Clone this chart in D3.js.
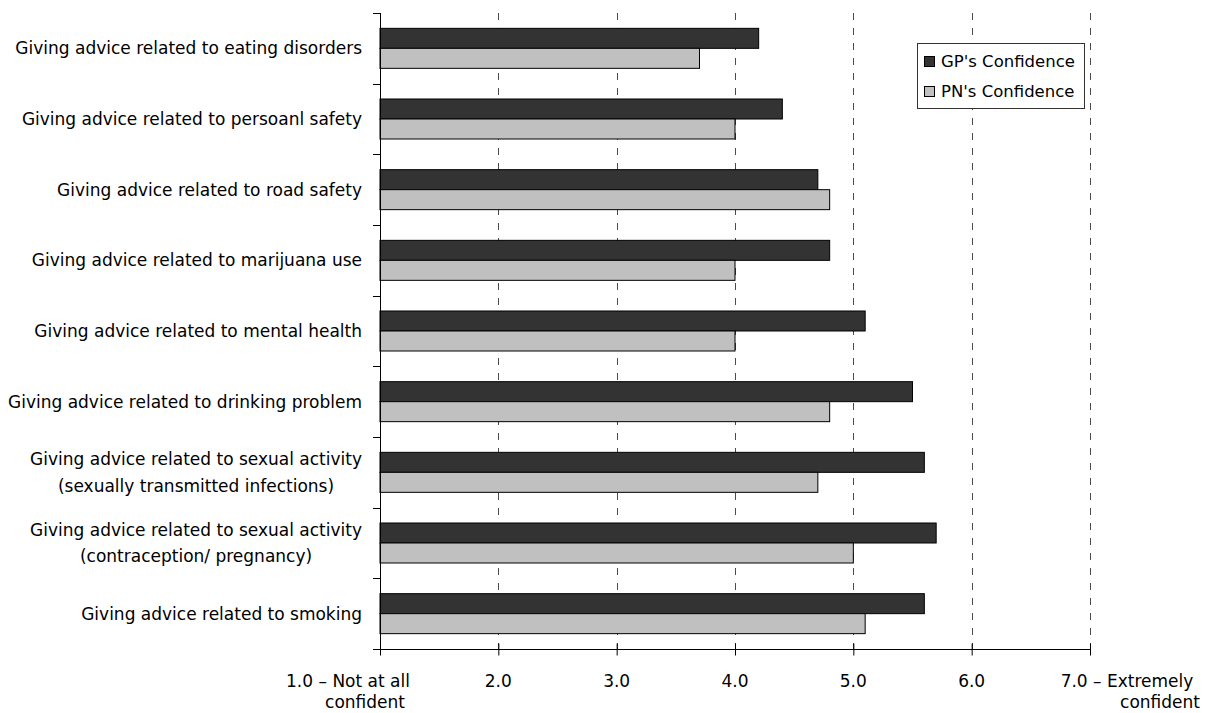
<!DOCTYPE html>
<html>
<head>
<meta charset="utf-8">
<script src="https://cdn.jsdelivr.net/npm/d3@7"></script>
<style>
  html, body { margin: 0; padding: 0; background: #fff; }
  svg { display: block; font-family: "DejaVu Sans", sans-serif; }
</style>
</head>
<body>
<svg id="chart" width="1206" height="713"></svg>
<script>
// Survey items, listed top to bottom
const categories = [
  "Giving advice related to eating disorders",
  "Giving advice related to persoanl safety",
  "Giving advice related to road safety",
  "Giving advice related to marijuana use",
  "Giving advice related to mental health",
  "Giving advice related to drinking problem",
  "Giving advice related to sexual activity|(sexually transmitted infections)",
  "Giving advice related to sexual activity|(contraception/ pregnancy)",
  "Giving advice related to smoking"
];

const seriesNames = ["GP's Confidence", "PN's Confidence"];
const gpValues = [4.2, 4.4, 4.7, 4.8, 5.1, 5.5, 5.6, 5.7, 5.6];
const pnValues = [3.7, 4.0, 4.8, 4.0, 4.0, 4.8, 4.7, 5.0, 5.1];

const tickValues = [1, 2, 3, 4, 5, 6, 7];
const tickLabels = [
  ["1.0 – Not at all", "confident"],
  ["2.0"], ["3.0"], ["4.0"], ["5.0"], ["6.0"],
  ["7.0 – Extremely", "confident"]
];

const colors = ["#333333", "#c0c0c0"];

const svg = d3.select("#chart");
const plotLeft = 380, plotRight = 1090, plotTop = 13, plotBottom = 649;

const x = d3.scaleLinear().domain([1, 7]).range([plotLeft, plotRight]);
const y = d3.scaleBand().domain(categories).range([plotTop, plotBottom]).padding(0);
const inner = d3.scaleBand().domain(seriesNames)
  .range([0, y.bandwidth()]).paddingInner(0).paddingOuter(0.767);

const rows = categories.map((c, i) => ({ cat: c, values: [gpValues[i], pnValues[i]] }));

// Dashed vertical gridlines
svg.append("g").selectAll("line")
  .data(tickValues.slice(1))
  .join("line")
  .attr("x1", d => Math.round(x(d)) + 0.5)
  .attr("x2", d => Math.round(x(d)) + 0.5)
  .attr("y1", plotTop)
  .attr("y2", plotBottom)
  .attr("stroke", "#4a4a4a")
  .attr("stroke-width", 1)
  .attr("stroke-dasharray", "7,8");

// Bars
const groups = svg.append("g").selectAll("g")
  .data(rows)
  .join("g")
  .attr("transform", d => `translate(0,${y(d.cat)})`);

groups.selectAll("rect")
  .data(d => d.values.map((v, k) => ({ v, k })))
  .join("rect")
  .attr("x", x(1))
  .attr("y", d => inner(seriesNames[d.k]))
  .attr("width", d => x(d.v) - x(1))
  .attr("height", inner.bandwidth())
  .attr("fill", d => colors[d.k])
  .attr("stroke", "#000")
  .attr("stroke-width", 1);

// Vertical (category) axis
const yAxis = svg.append("g").attr("transform", `translate(${plotLeft},0)`);
yAxis.append("line")
  .attr("x1", 0.5).attr("x2", 0.5)
  .attr("y1", plotTop).attr("y2", plotBottom + 6)
  .attr("stroke", "#000");
const boundaries = d3.range(categories.length + 1).map(i => plotTop + i * y.step());
yAxis.selectAll(".ytick")
  .data(boundaries)
  .join("line")
  .attr("class", "ytick")
  .attr("x1", -7).attr("x2", 0.5)
  .attr("y1", d => Math.round(d) + 0.5)
  .attr("y2", d => Math.round(d) + 0.5)
  .attr("stroke", "#000");

// Category labels: block right-aligned, lines centred within block
const labelRight = 362;
const labelG = svg.append("g")
  .attr("font-size", "17px")
  .attr("fill", "#000");
categories.forEach(c => {
  const lines = c.split("|");
  const cy = y(c) + y.bandwidth() / 2;
  const lineGap = 26.7;
  const texts = lines.map((t, j) => labelG.append("text")
    .attr("y", cy + (j - (lines.length - 1) / 2) * lineGap)
    .attr("dy", "0.36em")
    .text(t));
  const widths = texts.map(t => t.node().getComputedTextLength());
  const maxW = d3.max(widths);
  const cx = labelRight - maxW / 2;
  texts.forEach(t => t.attr("x", cx).attr("text-anchor", "middle"));
});

// Horizontal (value) axis
const xAxis = d3.axisBottom(x)
  .tickValues(tickValues)
  .tickSizeInner(6)
  .tickSizeOuter(0)
  .tickFormat("");
const xg = svg.append("g")
  .attr("transform", `translate(0,${plotBottom + 0.5})`)
  .call(xAxis);
xg.select(".domain").remove();
xg.insert("line", ":first-child")
  .attr("x1", plotLeft - 7).attr("x2", plotRight + 0.5)
  .attr("y1", 0).attr("y2", 0)
  .attr("stroke", "#000");
xg.selectAll(".tick line")
  .attr("y1", -6).attr("y2", 6)
  .attr("stroke", "#000");

// Tick labels (end labels carry the scale anchors)
const tickText = svg.append("g")
  .attr("font-size", "17px")
  .attr("fill", "#000")
  .attr("text-anchor", "middle");
tickValues.forEach((v, i) => {
  const lines = tickLabels[i];
  let offsets = [0, 0];
  if (v === 1) offsets = [-32, -15];
  if (v === 7) offsets = [37, 70];
  lines.forEach((t, j) => {
    tickText.append("text")
      .attr("x", x(v) + offsets[j])
      .attr("y", 687 + j * 21)
      .text(t);
  });
});

// Legend
const legend = svg.append("g").attr("transform", "translate(917,43)");
legend.append("rect")
  .attr("x", 0.5).attr("y", 0.5)
  .attr("width", 167).attr("height", 65)
  .attr("fill", "#fff")
  .attr("stroke", "#333");
seriesNames.forEach((name, k) => {
  const ly = 13 + k * 30;
  legend.append("rect")
    .attr("x", 7.5).attr("y", ly + 0.5)
    .attr("width", 10).attr("height", 10)
    .attr("fill", colors[k])
    .attr("stroke", "#000");
  legend.append("text")
    .attr("x", 24)
    .attr("y", ly + 11)
    .attr("font-size", "16.5px")
    .attr("fill", "#000")
    .text(name);
});
</script>
</body>
</html>
